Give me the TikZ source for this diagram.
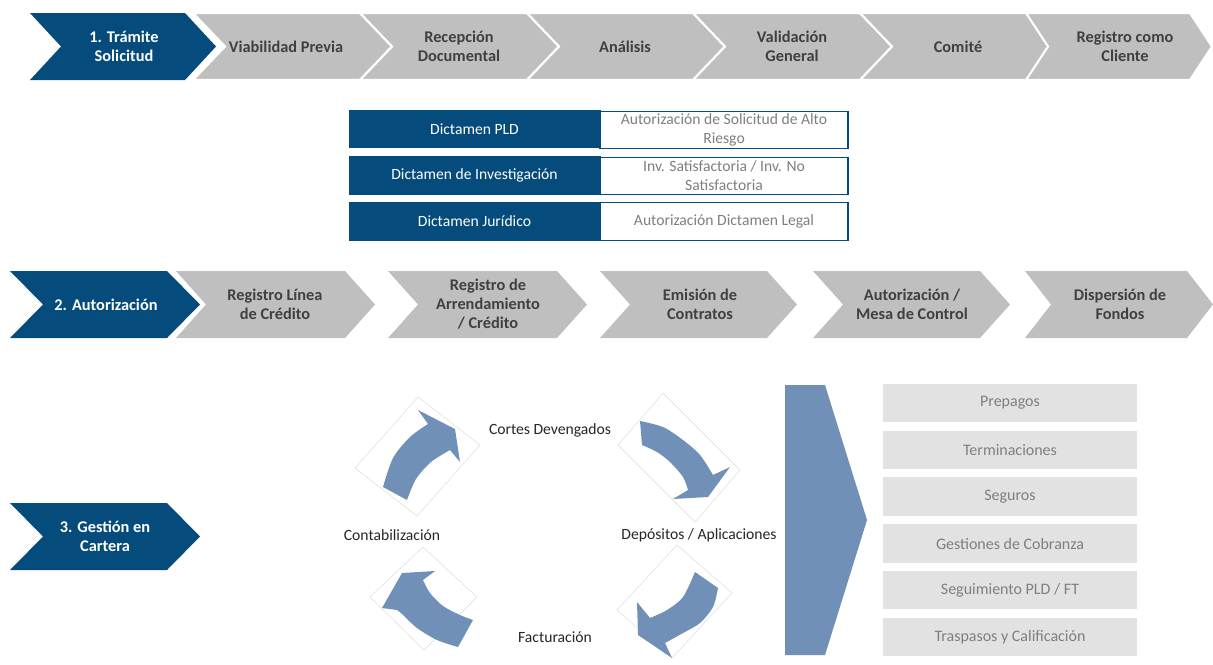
\documentclass[tikz,border=0pt]{standalone}
\usepackage{fontspec}
\setmainfont{Carlito}
\definecolor{navy}{HTML}{054B7B}
\definecolor{chgray}{HTML}{BFBFBF}
\definecolor{txtdark}{HTML}{404040}
\definecolor{txtgray}{HTML}{7F7F7F}
\definecolor{cycblue}{HTML}{7090B8}
\definecolor{listfill}{HTML}{E2E2E2}
\definecolor{cyctext}{HTML}{262626}
\newcommand{\chevfont}{\fontsize{9.3}{10.8}\selectfont\bfseries}
\newcommand{\tabfont}{\fontsize{8.9}{10.8}\selectfont}
\newcommand{\listfont}{\fontsize{9.1}{10.8}\selectfont}
\newcommand{\cycfont}{\fontsize{8.9}{10.5}\selectfont}
% #1 name, #2 left x, #3 top y, #4 body length, #5 point depth, #6 fill style, #7 text style, #8 text, #9 text x
\newcommand{\chev}[9]{%
  \path[#6] (#2,#3) -- ++(#4,0) -- ++(#5,33.5) -- ++(-#5,33.5) -- ++(-#4,0) -- ++(#5,-33.5) -- cycle;
  \node[#7] (#1) at (#9,{#3+33.5}) {#8};
}
\tikzset{
  navychev/.style={fill=navy},
  graychevA/.style={fill=chgray, draw=white, line width=1.2pt},
  graychevB/.style={fill=chgray},
  chevw/.style={text=white, font=\chevfont, align=center, inner sep=0pt},
  chevd/.style={text=txtdark, font=\chevfont, align=center, inner sep=0pt},
  tabl/.style={fill=navy, draw=navy, text=white, minimum width=5.02cm, minimum height=0.75cm, inner sep=0pt, font=\tabfont},
  tabr/.style={fill=white, draw=navy, line width=0.7pt, text=txtgray, minimum width=4.96cm, minimum height=0.75cm, inner sep=0pt, font=\tabfont, align=center},
  listbox/.style={fill=listfill, text=txtgray, minimum width=5.08cm, minimum height=0.77cm, inner sep=0pt, font=\listfont},
  cyclab/.style={text=cyctext, font=\cycfont, inner sep=0pt},
  cycarrow/.style={fill=cycblue},
  framebox/.style={draw=gray!30, line width=0.25pt},
}
\begin{document}
\begin{tikzpicture}[x=0.02cm, y=-0.02cm]
\useasboundingbox (0,0) rectangle (1213,664);
\clip (0,0) rectangle (1213,664);

% ---------- Row 1 ----------
\chev{c2}{193}{13}{167}{32}{graychevA}{chevd}{Viabilidad Previa}{286}
\chev{c3}{360}{13}{167}{32}{graychevA}{chevd}{Recepción\\Documental}{459}
\chev{c4}{527}{13}{166}{32}{graychevA}{chevd}{Análisis}{625}
\chev{c5}{693}{13}{167}{32}{graychevA}{chevd}{Validación\\General}{792}
\chev{c6}{860}{13}{166}{32}{graychevA}{chevd}{Comité}{958}
\chev{c7}{1026}{13}{164}{22}{graychevA}{chevd}{Registro como\\Cliente}{1125}
\chev{c1}{30}{13}{155}{31}{navychev}{chevw}{1. Trámite\\Solicitud}{124}

% ---------- Table ----------
\node[tabl] (t1l) at (474.5,129) {Dictamen PLD};
\node[tabr] (t1r) at (724,130) {Autorización de Solicitud de Alto\\Riesgo};
\node[tabl] (t2l) at (474.5,175.5) {Dictamen de Investigación};
\node[tabr] (t2r) at (724,176) {Inv. Satisfactoria / Inv. No\\Satisfactoria};
\node[tabl] (t3l) at (474.5,221.5) {Dictamen Jurídico};
\node[tabr] (t3r) at (724,221.5) {Autorización Dictamen Legal};

% ---------- Row 2 ----------
\chev{d1}{10}{271}{157}{33}{navychev}{chevw}{2. Autorización}{106}
\chev{g1}{176}{271}{169}{30}{graychevB}{chevd}{Registro Línea\\de Crédito}{275}
\chev{g2}{388}{271}{169}{30}{graychevB}{chevd}{Registro de\\Arrendamiento\\/ Crédito}{488}
\chev{g3}{600}{271}{167}{30}{graychevB}{chevd}{Emisión de\\Contratos}{700}
\chev{g4}{813}{271}{167}{30}{graychevB}{chevd}{Autorización /\\Mesa de Control}{912}
\chev{g5}{1025}{271}{162}{26}{graychevB}{chevd}{Dispersión de\\Fondos}{1120}

% ---------- Row 3 ----------
\chev{d3}{10}{503}{157}{33}{navychev}{chevw}{3. Gestión en\\Cartera}{105}

% ---------- Cycle frames ----------
\draw[framebox] (418,397) -- (480,445) -- (417,516) -- (355,468) -- cycle;
\draw[framebox] (663,393) -- (740,470) -- (695,522) -- (618,445) -- cycle;
\draw[framebox] (677,545) -- (732,593) -- (672,658) -- (617,610) -- cycle;
\draw[framebox] (423,547) -- (477,597) -- (424,650) -- (370,597) -- cycle;

% ---------- Cycle arrows ----------
% top-left (Contabilizacion -> Cortes)
\fill[cycarrow] plot[smooth] coordinates {(383,487) (393,458) (410,437) (428,424)}
  -- (418,410) -- (455,429) -- (460,462) -- (450,450)
  -- plot[smooth] coordinates {(450,450) (431,462) (416,479) (407,500)} -- cycle;
% top-right (Cortes -> Depositos)
\fill[cycarrow] plot[smooth] coordinates {(640,421) (663,427) (683,440) (700,455) (713,475)}
  -- (730,467) -- (708,497) -- (673,499) -- (688,490)
  -- plot[smooth] coordinates {(688,490) (683,477) (670,462) (657,452) (642,445)} -- cycle;
% bottom-right (Depositos -> Facturacion)
\fill[cycarrow] plot[smooth] coordinates {(718,588) (713,607) (700,623) (683,633) (665,643)}
  -- (672,658) -- (638,635) -- (637,602) -- (650,618)
  -- plot[smooth] coordinates {(650,618) (667,610) (683,597) (695,572)} -- cycle;
% bottom-left (Facturacion -> Contabilizacion)
\fill[cycarrow] plot[smooth] coordinates {(458,647) (437,640) (417,628) (402,614) (397,610)}
  -- (382,608) -- (402,573) -- (435,571) -- (423,580)
  -- plot[smooth] coordinates {(423,580) (430,593) (443,606) (460,615) (473,620)} -- cycle;

% ---------- Cycle labels ----------
\node[cyclab] (lc) at (550,430) {Cortes Devengados};
\node[cyclab] (ld) at (699,535) {Depósitos / Aplicaciones};
\node[cyclab] (lf) at (555,637) {Facturación};
\node[cyclab] (lk) at (392,535) {Contabilización};

% ---------- Big pentagon ----------
\fill[cycarrow] (785,385) -- (825,385) -- (867,520) -- (825,655) -- (785,655) -- cycle;

% ---------- List ----------
\node[listbox] (l1) at (1010,403) {Prepagos};
\node[listbox] (l2) at (1010,450) {Terminaciones};
\node[listbox] (l3) at (1010,496.5) {Seguros};
\node[listbox] (l4) at (1010,543.5) {Gestiones de Cobranza};
\node[listbox] (l5) at (1010,590) {Seguimiento PLD / FT};
\node[listbox] (l6) at (1010,637) {Traspasos y Calificación};
\end{tikzpicture}
\end{document}
